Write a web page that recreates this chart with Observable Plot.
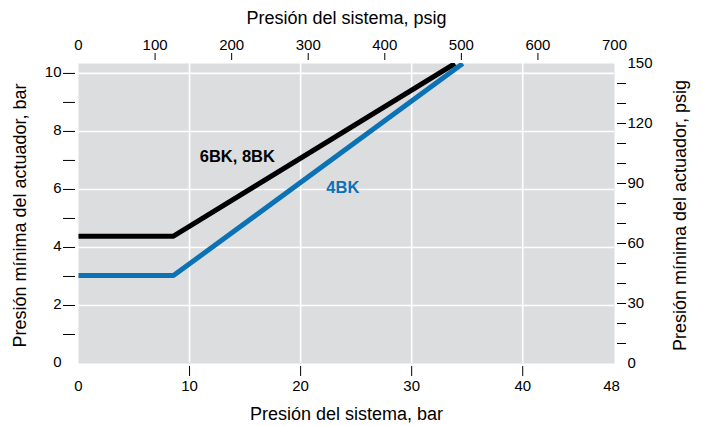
<!DOCTYPE html>
<html><head><meta charset="utf-8">
<script src="https://cdn.jsdelivr.net/npm/d3@7"></script>
<script src="https://cdn.jsdelivr.net/npm/@observablehq/plot@0.6"></script>
<style>body{margin:0;background:#fff;}</style>
</head><body><div id="chart"></div>
<script>
const PSI_PER_BAR = 14.5038;

// Series: system pressure (bar) vs minimum actuator pressure (bar)
const sys6 = [0, 8.55, 33.9];
const act6 = [4.39, 4.39, 10.342];
const sys4 = [0, 8.55, 34.6];
const act4 = [3.03, 3.03, 10.342];

// Series labels
const labelText = ["6BK, 8BK", "4BK"];
const labelX = [14.3, 23.8];
const labelY = [7.14, 6.07];
const labelColor = ["#000000", "#0b72b5"];

// Ticks
const bottomLabels = [0, 10, 20, 30, 40, 48];
const bottomTicks = [10, 20, 30, 40];
const topLabelsPsig = [0, 100, 200, 300, 400, 500, 600, 700];
const topTicksPsig = [100, 200, 300, 400, 500, 600];
const leftLabels = [0, 2, 4, 6, 8, 10];
const leftTicks = [1, 2, 3, 4, 5, 6, 7, 8, 9, 10];
const rightLabelsPsig = [0, 30, 60, 90, 120, 150];
const rightTicksPsig = [10, 20, 30, 40, 50, 60, 70, 80, 90, 100, 110, 120, 130, 140];
const gridXVals = [10, 20, 30, 40];
const gridYVals = [2, 4, 6, 8, 10];

const titleTop = "Presión del sistema, psig";
const titleBottom = "Presión del sistema, bar";
const titleLeft = "Presión mínima del actuador, bar";
const titleRight = "Presión mínima del actuador, psig";

const blue = "#0b72b5";
const line6 = sys6.map((x, i) => ({x, y: act6[i]}));
const line4 = sys4.map((x, i) => ({x, y: act4[i]}));
const labels = labelText.map((t, i) => ({t, x: labelX[i], y: labelY[i], c: labelColor[i]}));
const toBar = p => p / PSI_PER_BAR;
const fmtPsig = b => String(Math.round(b * PSI_PER_BAR));

const font = "'Liberation Sans', Arial, Helvetica, sans-serif";
const titleSize = 18;

const chart = Plot.plot({
  width: 703,
  height: 426,
  marginLeft: 78,
  marginRight: 89,
  marginTop: 63,
  marginBottom: 63,
  style: {fontFamily: font, fontSize: "15px", background: "#fff", color: "#000"},
  x: {domain: [0, toBar(700)]},
  y: {domain: [0, toBar(150)]},
  marks: [
    Plot.frame({fill: "#dcdddf"}),
    Plot.gridX(gridXVals, {stroke: "#fff", strokeOpacity: 1, strokeWidth: 1.6}),
    Plot.gridY(gridYVals, {stroke: "#fff", strokeOpacity: 1, strokeWidth: 1.6}),
    // bottom axis
    Plot.axisX(bottomTicks, {anchor: "bottom", tickSize: 10, dy: 3, tickFormat: () => "", label: null}),
    Plot.axisX(bottomLabels, {anchor: "bottom", tickSize: 0, tickPadding: 17, tickFormat: d => String(d), label: null}),
    // top axis (psig)
    Plot.axisX(topTicksPsig.map(toBar), {anchor: "top", tickSize: 7, dy: -4, tickFormat: () => "", label: null}),
    Plot.axisX(topLabelsPsig.map(toBar), {anchor: "top", tickSize: 0, tickPadding: 14, tickFormat: fmtPsig, label: null}),
    // left axis (bar)
    Plot.axisY(leftTicks, {anchor: "left", tickSize: 12, dx: -3, tickFormat: () => "", label: null}),
    Plot.axisY(leftLabels, {anchor: "left", tickSize: 0, tickPadding: 17, dy: -1.5, tickFormat: d => String(d), label: null}),
    // right axis (psig)
    Plot.axisY(rightTicksPsig.map(toBar), {anchor: "right", tickSize: 9, dx: 2, tickFormat: () => "", label: null}),
    Plot.axisY(rightLabelsPsig.map(toBar), {anchor: "right", tickSize: 0, tickPadding: 13, tickFormat: fmtPsig, label: null}),
    // lines
    Plot.line(line6, {x: "x", y: "y", stroke: "#000", strokeWidth: 5, strokeLinecap: "butt", strokeLinejoin: "miter", clip: true}),
    Plot.line(line4, {x: "x", y: "y", stroke: blue, strokeWidth: 5, strokeLinecap: "butt", strokeLinejoin: "miter", clip: true}),
    Plot.text(labels, {x: "x", y: "y", text: "t", fill: "c", fontWeight: "bold", fontSize: 16.5}),
    // axis titles
    Plot.text([titleTop], {text: d => d, frameAnchor: "top", lineAnchor: "middle", textAnchor: "middle", dy: -45, fontSize: titleSize}),
    Plot.text([titleBottom], {text: d => d, frameAnchor: "bottom", lineAnchor: "middle", textAnchor: "middle", dy: 51, fontSize: titleSize}),
    Plot.text([titleLeft], {text: d => d, frameAnchor: "left", lineAnchor: "middle", textAnchor: "middle", dx: -58, dy: 2, rotate: -90, fontSize: titleSize}),
    Plot.text([titleRight], {text: d => d, frameAnchor: "right", lineAnchor: "middle", textAnchor: "middle", dx: 66, dy: 2, rotate: -90, fontSize: titleSize})
  ]
});
document.getElementById("chart").appendChild(chart);
</script>
</body></html>
